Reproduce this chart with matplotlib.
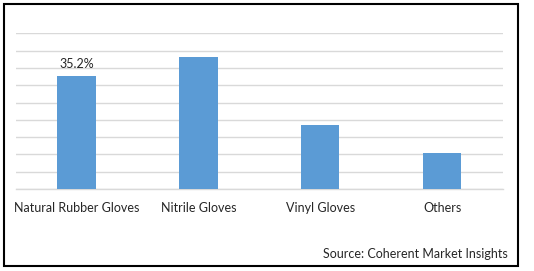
import matplotlib
matplotlib.use("Agg")
import matplotlib.pyplot as plt
from matplotlib.patches import Rectangle

categories = ["Natural Rubber Gloves", "Nitrile Gloves", "Vinyl Gloves", "Others"]
values = [35.2, 41.1, 19.9, 11.2]
label_text = "35.2%"
grid_step = 5.39
n_grid = 9

fig = plt.figure(figsize=(5.34, 2.71), dpi=100)
ax = fig.add_axes([0.0294, 0.3026, 0.9126, 0.5744])
x = list(range(len(categories)))
ax.bar(x, values, width=0.315, color="#5b9bd5", zorder=3)
ax.set_xlim(-0.5, len(categories) - 0.5)
ax.set_ylim(0, grid_step * n_grid)
ax.set_yticks([grid_step * i for i in range(n_grid + 1)])
ax.yaxis.grid(True, color="#d9d9d9", linewidth=1.0, zorder=0)
ax.tick_params(axis="y", left=False, labelleft=False)
ax.tick_params(axis="x", bottom=False, pad=6)
ax.set_xticks(x)
ax.set_xticklabels(categories, fontsize=9, family="Lato", color="#262626")
for s in ["top", "right", "left"]:
    ax.spines[s].set_visible(False)
ax.spines["bottom"].set_color("#d9d9d9")
ax.spines["bottom"].set_linewidth(1.0)

ax.text(0, values[0] + 1.8, label_text, ha="center", va="bottom", fontsize=9,
        family="Lato", color="#262626")

fig.text(508 / 534, 1 - 254 / 271, "Source: Coherent Market Insights", ha="right",
         va="center", fontsize=9, family="Lato", color="#262626")

fig.add_artist(Rectangle((3.5 / 534, 1 - 266 / 271), (517.5 - 3.5) / 534, (266 - 3.5) / 271,
                         transform=fig.transFigure, fill=False, edgecolor="black",
                         linewidth=1.5))

fig.savefig("out.png", dpi=100)
